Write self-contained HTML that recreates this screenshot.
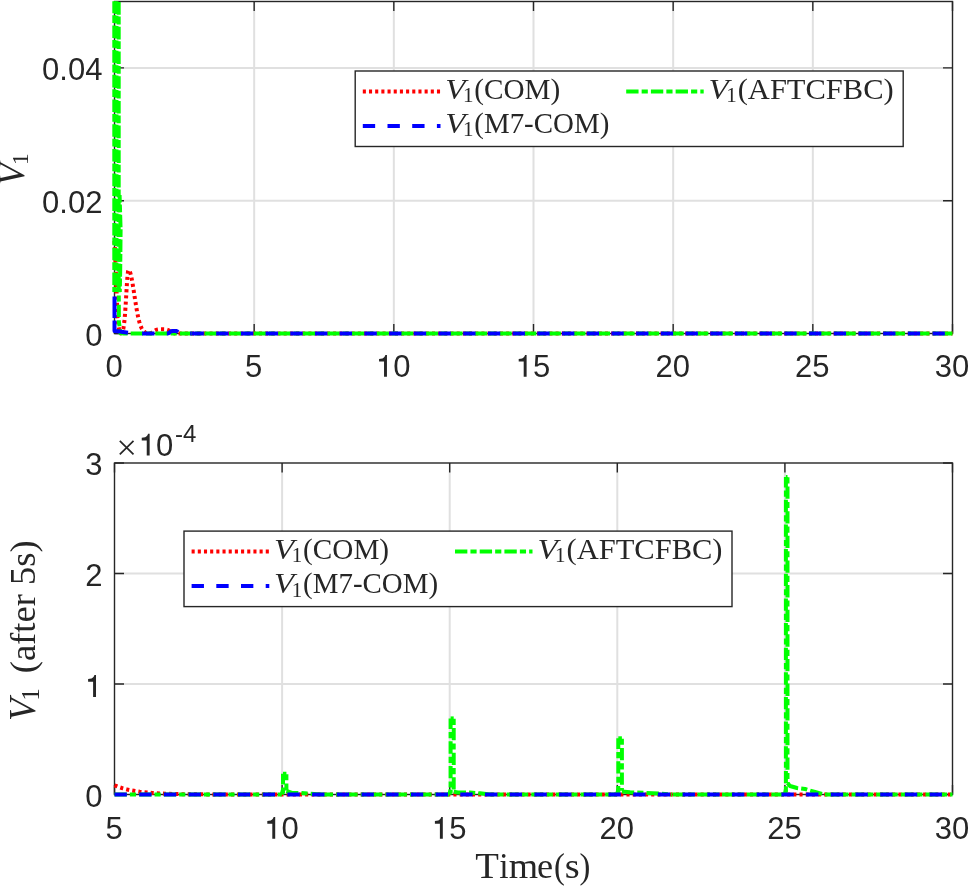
<!DOCTYPE html>
<html><head><meta charset="utf-8"><style>
html,body{margin:0;padding:0;background:#fff;width:968px;height:886px;overflow:hidden}
svg{display:block;will-change:transform}
.tl{font-family:"Liberation Sans", sans-serif;font-size:31px;fill:#262626}
.lg{font-family:"Liberation Serif", serif;font-size:29px;fill:#262626}
.lgv{font-family:"Liberation Serif", serif;font-size:30px;font-style:italic;fill:#262626}
.lgs{font-family:"Liberation Serif", serif;font-size:21px;fill:#262626}
.al{font-family:"Liberation Serif", serif;font-size:35px;fill:#262626}
.alv{font-family:"Liberation Serif", serif;font-size:37px;font-style:italic;fill:#262626}
.als{font-family:"Liberation Serif", serif;font-size:25px;fill:#262626}
</style></head><body>
<svg width="968" height="886" viewBox="0 0 968 886">
<rect width="968" height="886" fill="#fff"/>
<defs><clipPath id="c1"><rect x="111.5" y="1.0" width="844.0" height="335.0"/></clipPath><clipPath id="c2"><rect x="111.5" y="463.0" width="844.0" height="334.5"/></clipPath></defs>
<line x1="254.17" y1="1.5" x2="254.17" y2="333.5" stroke="#e0e0e0" stroke-width="2"/>
<line x1="393.83" y1="1.5" x2="393.83" y2="333.5" stroke="#e0e0e0" stroke-width="2"/>
<line x1="533.50" y1="1.5" x2="533.50" y2="333.5" stroke="#e0e0e0" stroke-width="2"/>
<line x1="673.17" y1="1.5" x2="673.17" y2="333.5" stroke="#e0e0e0" stroke-width="2"/>
<line x1="812.83" y1="1.5" x2="812.83" y2="333.5" stroke="#e0e0e0" stroke-width="2"/>
<line x1="114.5" y1="200.70" x2="952.5" y2="200.70" stroke="#e0e0e0" stroke-width="2"/>
<line x1="114.5" y1="67.90" x2="952.5" y2="67.90" stroke="#e0e0e0" stroke-width="2"/>
<path d="M114.50 333.5V324.0M114.50 1.5V11.0M254.17 333.5V324.0M254.17 1.5V11.0M393.83 333.5V324.0M393.83 1.5V11.0M533.50 333.5V324.0M533.50 1.5V11.0M673.17 333.5V324.0M673.17 1.5V11.0M812.83 333.5V324.0M812.83 1.5V11.0M952.50 333.5V324.0M952.50 1.5V11.0M114.5 333.50H124.0M952.5 333.50H943.0M114.5 200.70H124.0M952.5 200.70H943.0M114.5 67.90H124.0M952.5 67.90H943.0" stroke="#262626" stroke-width="1.4" fill="none"/>
<rect x="114.5" y="1.5" width="838.0" height="332.0" stroke="#262626" stroke-width="1.4" fill="none"/>
<path d="M114.50 241.00 L115.50 262.00 L117.50 318.00 L119.50 333.00 L119.60 333.47 L120.07 333.44 L120.54 333.37 L121.01 333.23 L121.48 332.98 L121.95 332.53 L122.42 331.78 L122.89 330.55 L123.36 328.67 L123.83 325.92 L124.31 322.11 L124.78 317.11 L125.25 310.92 L125.72 303.70 L126.19 295.84 L126.66 287.92 L127.13 280.66 L127.60 274.84 L128.07 271.14 L128.54 270.00 L129.01 270.24 L129.48 270.88 L129.95 271.91 L130.42 273.31 L130.89 275.06 L131.36 277.12 L131.83 279.46 L132.30 282.03 L132.77 284.79 L133.24 287.70 L133.72 290.71 L134.19 293.78 L134.66 296.87 L135.13 299.93 L135.60 302.93 L136.07 305.85 L136.54 308.64 L137.01 311.30 L137.48 313.80 L137.95 316.13 L138.42 318.28 L138.89 320.25 L139.36 322.04 L139.83 323.65 L140.30 325.09 L140.77 326.37 L141.24 327.49 L141.71 328.46 L142.18 329.31 L142.65 330.04 L143.13 330.65 L143.60 331.18 L144.07 331.62 L144.54 331.98 L145.01 332.28 L145.48 332.53 L145.95 332.74 L146.42 332.90 L146.89 333.03 L147.36 333.13 L147.83 333.21 L148.30 333.27 L148.77 333.30 L149.24 333.30 L149.71 333.28 L150.18 333.22 L150.65 333.11 L151.12 332.96 L151.59 332.77 L152.06 332.53 L152.54 332.25 L153.01 331.94 L153.48 331.61 L153.95 331.28 L154.42 330.96 L154.89 330.65 L155.36 330.38 L155.83 330.13 L156.30 329.92 L156.77 329.75 L157.24 329.62 L157.71 329.51 L158.18 329.43 L158.65 329.38 L159.12 329.34 L159.59 329.32 L160.06 329.31 L160.53 329.30 L161.00 329.30 L161.47 329.30 L161.95 329.30 L162.42 329.30 L162.89 329.30 L163.36 329.30 L163.83 329.31 L164.30 329.32 L164.77 329.34 L165.24 329.37 L165.71 329.42 L166.18 329.49 L166.65 329.59 L167.12 329.72 L167.59 329.88 L168.06 330.08 L168.53 330.32 L169.00 330.59 L169.47 330.89 L169.94 331.21 L170.41 331.54 L170.88 331.88 L171.36 332.19 L171.83 332.49 L172.30 332.74 L172.77 332.96 L173.24 333.13 L173.71 333.26 L174.18 333.35 L174.65 333.42 L175.12 333.45 L175.59 333.48 L176.06 333.49 L176.53 333.50 L177.00 333.50 L177.47 333.50 L177.94 333.50 L178.41 333.50 L178.88 333.50 L179.35 333.50 L179.82 333.50 L180.29 333.50 L180.77 333.50 L181.24 333.50 L181.71 333.50 L182.18 333.50 L182.65 333.50 L183.12 333.50 L183.59 333.50 L184.06 333.50 L184.53 333.50 L185.00 333.50 L952.50 333.50" stroke="#ff0000" stroke-width="4.0" fill="none" stroke-dasharray="3.09 3.09" stroke-linejoin="round" clip-path="url(#c1)"/>
<path d="M114.30 1.30 L114.30 292.00" stroke="#00ff00" stroke-width="4.0" fill="none" stroke-dasharray="12.6 1.9 7.8 2.4" stroke-linejoin="round" clip-path="url(#c1)" stroke-dashoffset="0.60"/>
<path d="M116.50 1.30 L116.50 292.00" stroke="#00ff00" stroke-width="4.0" fill="none" stroke-dasharray="12.6 1.9 7.8 2.4" stroke-linejoin="round" clip-path="url(#c1)" stroke-dashoffset="0.00"/>
<path d="M118.70 1.30 L118.70 292.00" stroke="#00ff00" stroke-width="4.0" fill="none" stroke-dasharray="12.6 1.9 7.8 2.4" stroke-linejoin="round" clip-path="url(#c1)" stroke-dashoffset="-0.80"/>
<path d="M119.60 195.00 L120.60 230.00 L120.20 270.00 L119.80 292.00" stroke="#00ff00" stroke-width="4.0" fill="none" stroke-dasharray="12.6 1.9 7.8 2.4" stroke-linejoin="round" clip-path="url(#c1)" stroke-dashoffset="5"/>
<path d="M118.70 280.00 L118.90 322.00 L120.50 333.20 L123.00 333.50" stroke="#00ff00" stroke-width="4.0" fill="none" stroke-dasharray="12.35 3.09 6.18 3.09" stroke-linejoin="round" clip-path="url(#c1)"/>
<path d="M123.00 333.50 L952.50 333.50" stroke="#00ff00" stroke-width="4.0" fill="none" stroke-dasharray="12.29 3.07 6.15 3.07" stroke-linejoin="round" clip-path="url(#c1)" stroke-dashoffset="16.88"/>
<path d="M114.50 296.50 L114.50 318.00" stroke="#0000ff" stroke-width="4.0" fill="none" stroke-dasharray="none" stroke-linejoin="round" clip-path="url(#c1)"/>
<path d="M114.50 320.50 L114.50 331.00 L118.00 331.30 L123.00 332.00 L128.00 332.80" stroke="#0000ff" stroke-width="4.0" fill="none" stroke-dasharray="none" stroke-linejoin="round" clip-path="url(#c1)"/>
<path d="M142.10 333.50 L143.11 333.50 L144.12 333.50 L145.12 333.50 L146.13 333.50 L147.14 333.50 L148.15 333.50 L149.16 333.50 L150.17 333.50 L151.17 333.50 L152.18 333.50 L153.19 333.50 L154.20 333.50 L155.21 333.50 L156.21 333.50 L157.22 333.50 L158.23 333.50 L159.24 333.50 L160.25 333.50 L161.26 333.50 L162.26 333.50 L163.27 333.50 L164.28 333.50 L165.29 333.50 L166.30 333.50 L167.30 333.48 L168.31 333.30 L169.32 332.69 L170.33 331.83 L171.34 331.20 L172.34 330.95 L173.35 330.90 L174.36 330.90 L175.37 330.92 L176.38 331.09 L177.39 331.61 L178.39 332.45 L179.40 333.17 L180.41 333.46 L181.42 333.50 L182.43 333.50 L183.43 333.50 L184.44 333.50 L185.45 333.50 L186.46 333.50 L187.47 333.50 L188.48 333.50 L189.48 333.50 L190.49 333.50 L191.50 333.50" stroke="#0000ff" stroke-width="4.0" fill="none" stroke-dasharray="12.35 12.35" stroke-linejoin="round" clip-path="url(#c1)"/>
<path d="M191.50 333.50 L952.50 333.50" stroke="#0000ff" stroke-width="4.0" fill="none" stroke-dasharray="12.35 12.35" stroke-linejoin="round" clip-path="url(#c1)"/>
<text x="105.38" y="376.70" class="tl" style="font-size:31px">0</text>
<text x="245.05" y="376.70" class="tl" style="font-size:31px">5</text>
<path d="M95 575L95 487L256 487L256 0L350 0L350 703L300 703C285 660 260 620 205 590C170 580 130 576 95 575Z" transform="translate(376.10 376.70) scale(0.0310 -0.0310)" fill="#262626"/><text x="393.33" y="376.70" class="tl" style="font-size:31px">0</text>
<path d="M95 575L95 487L256 487L256 0L350 0L350 703L300 703C285 660 260 620 205 590C170 580 130 576 95 575Z" transform="translate(515.76 376.70) scale(0.0310 -0.0310)" fill="#262626"/><text x="533.00" y="376.70" class="tl" style="font-size:31px">5</text>
<text x="655.43" y="376.70" class="tl" style="font-size:31px">2</text><text x="672.67" y="376.70" class="tl" style="font-size:31px">0</text>
<text x="795.10" y="376.70" class="tl" style="font-size:31px">2</text><text x="812.33" y="376.70" class="tl" style="font-size:31px">5</text>
<text x="934.76" y="376.70" class="tl" style="font-size:31px">3</text><text x="952.00" y="376.70" class="tl" style="font-size:31px">0</text>
<text x="85.16" y="346.00" class="tl" style="font-size:31px">0</text>
<text x="42.07" y="212.90" class="tl" style="font-size:31px">0</text><text x="59.31" y="212.90" class="tl" style="font-size:31px">.</text><text x="67.93" y="212.90" class="tl" style="font-size:31px">0</text><text x="85.16" y="212.90" class="tl" style="font-size:31px">2</text>
<text x="42.07" y="79.90" class="tl" style="font-size:31px">0</text><text x="59.31" y="79.90" class="tl" style="font-size:31px">.</text><text x="67.93" y="79.90" class="tl" style="font-size:31px">0</text><text x="85.16" y="79.90" class="tl" style="font-size:31px">4</text>
<line x1="282.10" y1="463.0" x2="282.10" y2="794.5" stroke="#e0e0e0" stroke-width="2"/>
<line x1="449.70" y1="463.0" x2="449.70" y2="794.5" stroke="#e0e0e0" stroke-width="2"/>
<line x1="617.30" y1="463.0" x2="617.30" y2="794.5" stroke="#e0e0e0" stroke-width="2"/>
<line x1="784.90" y1="463.0" x2="784.90" y2="794.5" stroke="#e0e0e0" stroke-width="2"/>
<line x1="114.5" y1="684.00" x2="952.5" y2="684.00" stroke="#e0e0e0" stroke-width="2"/>
<line x1="114.5" y1="573.50" x2="952.5" y2="573.50" stroke="#e0e0e0" stroke-width="2"/>
<path d="M114.50 794.5V785.0M114.50 463.0V472.5M282.10 794.5V785.0M282.10 463.0V472.5M449.70 794.5V785.0M449.70 463.0V472.5M617.30 794.5V785.0M617.30 463.0V472.5M784.90 794.5V785.0M784.90 463.0V472.5M952.50 794.5V785.0M952.50 463.0V472.5M114.5 794.50H124.0M952.5 794.50H943.0M114.5 684.00H124.0M952.5 684.00H943.0M114.5 573.50H124.0M952.5 573.50H943.0M114.5 463.00H124.0M952.5 463.00H943.0" stroke="#262626" stroke-width="1.4" fill="none"/>
<rect x="114.5" y="463.0" width="838.0" height="331.5" stroke="#262626" stroke-width="1.4" fill="none"/>
<path d="M114.50 785.33 L118.71 787.00 L122.92 788.36 L127.13 789.48 L131.34 790.40 L135.56 791.14 L139.77 791.75 L143.98 792.25 L148.19 792.66 L152.40 793.00 L156.61 793.27 L160.82 793.49 L165.03 793.68 L169.24 793.83 L173.45 793.95 L177.67 794.05 L181.88 794.13 L186.09 794.20 L190.30 794.25 L194.51 794.30 L198.72 794.34 L202.93 794.37 L207.14 794.39 L211.35 794.41 L215.57 794.43 L219.78 794.44 L223.99 794.45 L228.20 794.46 L232.41 794.47 L236.62 794.47 L240.83 794.48 L245.04 794.48 L249.25 794.49 L253.46 794.49 L257.68 794.49 L261.89 794.49 L266.10 794.49 L270.31 794.49 L274.52 794.50 L278.73 794.50 L282.94 794.50 L287.15 794.50 L291.36 794.50 L295.58 794.50 L299.79 794.50 L304.00 794.50 L308.21 794.50 L312.42 794.50 L316.63 794.50 L320.84 794.50 L325.05 794.50 L329.26 794.50 L333.47 794.50 L337.69 794.50 L341.90 794.50 L346.11 794.50 L350.32 794.50 L354.53 794.50 L358.74 794.50 L362.95 794.50 L367.16 794.50 L371.37 794.50 L375.59 794.50 L379.80 794.50 L384.01 794.50 L388.22 794.50 L392.43 794.50 L396.64 794.50 L400.85 794.50 L405.06 794.50 L409.27 794.50 L413.48 794.50 L417.70 794.50 L421.91 794.50 L426.12 794.50 L430.33 794.50 L434.54 794.50 L438.75 794.50 L442.96 794.50 L447.17 794.50 L451.38 794.50 L455.60 794.50 L459.81 794.50 L464.02 794.50 L468.23 794.50 L472.44 794.50 L476.65 794.50 L480.86 794.50 L485.07 794.50 L489.28 794.50 L493.49 794.50 L497.71 794.50 L501.92 794.50 L506.13 794.50 L510.34 794.50 L514.55 794.50 L518.76 794.50 L522.97 794.50 L527.18 794.50 L531.39 794.50 L535.61 794.50 L539.82 794.50 L544.03 794.50 L548.24 794.50 L552.45 794.50 L556.66 794.50 L560.87 794.50 L565.08 794.50 L569.29 794.50 L573.51 794.50 L577.72 794.50 L581.93 794.50 L586.14 794.50 L590.35 794.50 L594.56 794.50 L598.77 794.50 L602.98 794.50 L607.19 794.50 L611.40 794.50 L615.62 794.50 L619.83 794.50 L624.04 794.50 L628.25 794.50 L632.46 794.50 L636.67 794.50 L640.88 794.50 L645.09 794.50 L649.30 794.50 L653.52 794.50 L657.73 794.50 L661.94 794.50 L666.15 794.50 L670.36 794.50 L674.57 794.50 L678.78 794.50 L682.99 794.50 L687.20 794.50 L691.41 794.50 L695.63 794.50 L699.84 794.50 L704.05 794.50 L708.26 794.50 L712.47 794.50 L716.68 794.50 L720.89 794.50 L725.10 794.50 L729.31 794.50 L733.53 794.50 L737.74 794.50 L741.95 794.50 L746.16 794.50 L750.37 794.50 L754.58 794.50 L758.79 794.50 L763.00 794.50 L767.21 794.50 L771.42 794.50 L775.64 794.50 L779.85 794.50 L784.06 794.50 L788.27 794.50 L792.48 794.50 L796.69 794.50 L800.90 794.50 L805.11 794.50 L809.32 794.50 L813.54 794.50 L817.75 794.50 L821.96 794.50 L826.17 794.50 L830.38 794.50 L834.59 794.50 L838.80 794.50 L843.01 794.50 L847.22 794.50 L851.43 794.50 L855.65 794.50 L859.86 794.50 L864.07 794.50 L868.28 794.50 L872.49 794.50 L876.70 794.50 L880.91 794.50 L885.12 794.50 L889.33 794.50 L893.55 794.50 L897.76 794.50 L901.97 794.50 L906.18 794.50 L910.39 794.50 L914.60 794.50 L918.81 794.50 L923.02 794.50 L927.23 794.50 L931.44 794.50 L935.66 794.50 L939.87 794.50 L944.08 794.50 L948.29 794.50 L952.50 794.50" stroke="#ff0000" stroke-width="4.0" fill="none" stroke-dasharray="3.09 3.09" stroke-linejoin="round" clip-path="url(#c2)"/>
<path d="M114.50 794.50 L281.80 794.50" stroke="#00ff00" stroke-width="4.0" fill="none" stroke-dasharray="12.32 3.08 6.16 3.08" stroke-linejoin="round" clip-path="url(#c2)" stroke-dashoffset="0.00"/>
<path d="M320.70 794.50 L449.40 794.50" stroke="#00ff00" stroke-width="4.0" fill="none" stroke-dasharray="12.32 3.08 6.16 3.08" stroke-linejoin="round" clip-path="url(#c2)" stroke-dashoffset="0.00"/>
<path d="M490.00 794.50 L617.10 794.50" stroke="#00ff00" stroke-width="4.0" fill="none" stroke-dasharray="12.32 3.08 6.16 3.08" stroke-linejoin="round" clip-path="url(#c2)" stroke-dashoffset="8.00"/>
<path d="M672.00 794.50 L784.40 794.50" stroke="#00ff00" stroke-width="4.0" fill="none" stroke-dasharray="12.32 3.08 6.16 3.08" stroke-linejoin="round" clip-path="url(#c2)" stroke-dashoffset="23.84"/>
<path d="M826.90 794.50 L952.50 794.50" stroke="#00ff00" stroke-width="4.0" fill="none" stroke-dasharray="12.32 3.08 6.16 3.08" stroke-linejoin="round" clip-path="url(#c2)" stroke-dashoffset="0.00"/>
<path d="M281.80 794.50 L283.00 789.50" stroke="#00ff00" stroke-width="4.0" fill="none" stroke-dasharray="none" stroke-linejoin="round" clip-path="url(#c2)"/>
<path d="M283.00 773.80 L283.00 793.50" stroke="#00ff00" stroke-width="4.0" fill="none" stroke-dasharray="12.32 3.08 6.16 3.08" stroke-linejoin="round" clip-path="url(#c2)" stroke-dashoffset="1.7"/>
<path d="M286.40 773.80 L286.40 790.50" stroke="#00ff00" stroke-width="4.0" fill="none" stroke-dasharray="12.32 3.08 6.16 3.08" stroke-linejoin="round" clip-path="url(#c2)" stroke-dashoffset="15.04"/>
<path d="M283.00 773.80 L286.40 773.80" stroke="#00ff00" stroke-width="4.0" fill="none" stroke-dasharray="none" stroke-linejoin="round" clip-path="url(#c2)"/>
<path d="M286.40 791.00 L292.00 793.00 L300.00 793.00 L310.00 793.60 L320.70 794.50" stroke="#00ff00" stroke-width="4.0" fill="none" stroke-dasharray="12.32 3.08 6.16 3.08" stroke-linejoin="round" clip-path="url(#c2)"/>
<path d="M449.40 794.50 L450.60 789.50" stroke="#00ff00" stroke-width="4.0" fill="none" stroke-dasharray="none" stroke-linejoin="round" clip-path="url(#c2)"/>
<path d="M450.60 718.40 L450.60 793.50" stroke="#00ff00" stroke-width="4.0" fill="none" stroke-dasharray="12.32 3.08 6.16 3.08" stroke-linejoin="round" clip-path="url(#c2)" stroke-dashoffset="1.7"/>
<path d="M453.70 718.40 L453.70 790.20" stroke="#00ff00" stroke-width="4.0" fill="none" stroke-dasharray="12.32 3.08 6.16 3.08" stroke-linejoin="round" clip-path="url(#c2)" stroke-dashoffset="15.04"/>
<path d="M450.60 718.40 L453.70 718.40" stroke="#00ff00" stroke-width="4.0" fill="none" stroke-dasharray="none" stroke-linejoin="round" clip-path="url(#c2)"/>
<path d="M453.70 791.80 L458.00 792.40 L470.00 792.60 L480.00 793.30 L490.00 794.50" stroke="#00ff00" stroke-width="4.0" fill="none" stroke-dasharray="12.32 3.08 6.16 3.08" stroke-linejoin="round" clip-path="url(#c2)"/>
<path d="M617.10 794.50 L618.30 789.50" stroke="#00ff00" stroke-width="4.0" fill="none" stroke-dasharray="none" stroke-linejoin="round" clip-path="url(#c2)"/>
<path d="M618.30 738.30 L618.30 793.50" stroke="#00ff00" stroke-width="4.0" fill="none" stroke-dasharray="12.32 3.08 6.16 3.08" stroke-linejoin="round" clip-path="url(#c2)" stroke-dashoffset="1.7"/>
<path d="M621.90 738.30 L621.90 790.80" stroke="#00ff00" stroke-width="4.0" fill="none" stroke-dasharray="12.32 3.08 6.16 3.08" stroke-linejoin="round" clip-path="url(#c2)" stroke-dashoffset="15.04"/>
<path d="M618.30 738.30 L621.90 738.30" stroke="#00ff00" stroke-width="4.0" fill="none" stroke-dasharray="none" stroke-linejoin="round" clip-path="url(#c2)"/>
<path d="M621.90 791.50 L630.00 792.30 L645.00 792.90 L660.00 793.60 L672.00 794.50" stroke="#00ff00" stroke-width="4.0" fill="none" stroke-dasharray="12.32 3.08 6.16 3.08" stroke-linejoin="round" clip-path="url(#c2)"/>
<path d="M784.70 794.50 L785.90 789.50" stroke="#00ff00" stroke-width="4.0" fill="none" stroke-dasharray="none" stroke-linejoin="round" clip-path="url(#c2)"/>
<path d="M785.90 476.90 L785.90 793.50" stroke="#00ff00" stroke-width="4.0" fill="none" stroke-dasharray="12.32 3.08 6.16 3.08" stroke-linejoin="round" clip-path="url(#c2)" stroke-dashoffset="1.7"/>
<path d="M787.50 476.90 L787.50 783.00" stroke="#00ff00" stroke-width="4.0" fill="none" stroke-dasharray="12.32 3.08 6.16 3.08" stroke-linejoin="round" clip-path="url(#c2)" stroke-dashoffset="15.04"/>
<path d="M785.90 476.90 L787.50 476.90" stroke="#00ff00" stroke-width="4.0" fill="none" stroke-dasharray="none" stroke-linejoin="round" clip-path="url(#c2)"/>
<path d="M787.50 783.00 L790.00 786.00 L797.00 788.00 L805.00 789.00 L815.00 792.00 L824.00 794.50 L826.90 794.50" stroke="#00ff00" stroke-width="4.0" fill="none" stroke-dasharray="12.32 3.08 6.16 3.08" stroke-linejoin="round" clip-path="url(#c2)"/>
<path d="M114.50 794.50 L952.50 794.50" stroke="#0000ff" stroke-width="4.0" fill="none" stroke-dasharray="12.35 12.35" stroke-linejoin="round" clip-path="url(#c2)"/>
<text x="105.38" y="838.80" class="tl" style="font-size:31px">5</text>
<path d="M95 575L95 487L256 487L256 0L350 0L350 703L300 703C285 660 260 620 205 590C170 580 130 576 95 575Z" transform="translate(264.36 838.80) scale(0.0310 -0.0310)" fill="#262626"/><text x="281.60" y="838.80" class="tl" style="font-size:31px">0</text>
<path d="M95 575L95 487L256 487L256 0L350 0L350 703L300 703C285 660 260 620 205 590C170 580 130 576 95 575Z" transform="translate(431.96 838.80) scale(0.0310 -0.0310)" fill="#262626"/><text x="449.20" y="838.80" class="tl" style="font-size:31px">5</text>
<text x="599.56" y="838.80" class="tl" style="font-size:31px">2</text><text x="616.80" y="838.80" class="tl" style="font-size:31px">0</text>
<text x="767.16" y="838.80" class="tl" style="font-size:31px">2</text><text x="784.40" y="838.80" class="tl" style="font-size:31px">5</text>
<text x="934.76" y="838.80" class="tl" style="font-size:31px">3</text><text x="952.00" y="838.80" class="tl" style="font-size:31px">0</text>
<text x="85.16" y="806.80" class="tl" style="font-size:31px">0</text>
<path d="M95 575L95 487L256 487L256 0L350 0L350 703L300 703C285 660 260 620 205 590C170 580 130 576 95 575Z" transform="translate(85.16 696.90) scale(0.0310 -0.0310)" fill="#262626"/>
<text x="85.16" y="585.80" class="tl" style="font-size:31px">2</text>
<text x="85.16" y="475.30" class="tl" style="font-size:31px">3</text>
<path d="M119.8 440.8L133.5 454.4M133.5 440.8L119.8 454.4" stroke="#262626" stroke-width="1.7"/>
<path d="M95 575L95 487L256 487L256 0L350 0L350 703L300 703C285 660 260 620 205 590C170 580 130 576 95 575Z" transform="translate(138.80 455.60) scale(0.0310 -0.0310)" fill="#262626"/><text x="156.04" y="455.60" class="tl" style="font-size:31px">0</text>
<text x="174.90" y="442.00" class="tl" style="font-size:24px">-</text><text x="182.89" y="442.00" class="tl" style="font-size:24px">4</text>
<rect x="355.2" y="71" width="548" height="75.5" fill="#fff" stroke="#262626" stroke-width="1.4"/>
<line x1="362.8" y1="91.5" x2="440.5" y2="91.5" stroke="#ff0000" stroke-width="4.0" stroke-dasharray="3.09 3.09"/>
<line x1="362.8" y1="125.9" x2="440.5" y2="125.9" stroke="#0000ff" stroke-width="4.0" stroke-dasharray="12.35 12.35"/>
<line x1="626.2" y1="91.5" x2="703.7" y2="91.5" stroke="#00ff00" stroke-width="4.0" stroke-dasharray="12.35 3.09 6.18 3.09"/>
<text x="445.20" y="98.90" class="lgv" textLength="20.2" lengthAdjust="spacingAndGlyphs">V</text>
<text x="462.90" y="102.20" class="lgs">1</text>
<text x="474.30" y="98.90" class="lg" textLength="86" lengthAdjust="spacingAndGlyphs">(COM)</text>
<text x="445.20" y="133.10" class="lgv" textLength="20.2" lengthAdjust="spacingAndGlyphs">V</text>
<text x="462.90" y="136.40" class="lgs">1</text>
<text x="474.30" y="133.10" class="lg" textLength="135" lengthAdjust="spacingAndGlyphs">(M7-COM)</text>
<text x="708.60" y="98.90" class="lgv" textLength="20.2" lengthAdjust="spacingAndGlyphs">V</text>
<text x="726.30" y="102.20" class="lgs">1</text>
<text x="737.70" y="98.90" class="lg" textLength="156" lengthAdjust="spacingAndGlyphs">(AFTCFBC)</text>
<rect x="184" y="531.1" width="548" height="75.5" fill="#fff" stroke="#262626" stroke-width="1.4"/>
<line x1="191.6" y1="551.6" x2="269.3" y2="551.6" stroke="#ff0000" stroke-width="4.0" stroke-dasharray="3.09 3.09"/>
<line x1="191.6" y1="586.0" x2="269.3" y2="586.0" stroke="#0000ff" stroke-width="4.0" stroke-dasharray="12.35 12.35"/>
<line x1="455" y1="551.6" x2="532.5" y2="551.6" stroke="#00ff00" stroke-width="4.0" stroke-dasharray="12.35 3.09 6.18 3.09"/>
<text x="274.00" y="559.00" class="lgv" textLength="20.2" lengthAdjust="spacingAndGlyphs">V</text>
<text x="291.70" y="562.30" class="lgs">1</text>
<text x="303.10" y="559.00" class="lg" textLength="86" lengthAdjust="spacingAndGlyphs">(COM)</text>
<text x="274.00" y="593.20" class="lgv" textLength="20.2" lengthAdjust="spacingAndGlyphs">V</text>
<text x="291.70" y="596.50" class="lgs">1</text>
<text x="303.10" y="593.20" class="lg" textLength="135" lengthAdjust="spacingAndGlyphs">(M7-COM)</text>
<text x="537.40" y="559.00" class="lgv" textLength="20.2" lengthAdjust="spacingAndGlyphs">V</text>
<text x="555.10" y="562.30" class="lgs">1</text>
<text x="566.50" y="559.00" class="lg" textLength="156" lengthAdjust="spacingAndGlyphs">(AFTCFBC)</text>
<text x="475.23" y="877.6" class="al" textLength="23.63" lengthAdjust="spacingAndGlyphs">T</text>
<text x="499.35" y="877.6" class="al" textLength="9.34" lengthAdjust="spacingAndGlyphs">i</text>
<text x="508.71" y="877.6" class="al" textLength="29.41" lengthAdjust="spacingAndGlyphs">m</text>
<text x="536.95" y="877.6" class="al" textLength="16.10" lengthAdjust="spacingAndGlyphs">e</text>
<text x="553.97" y="877.6" class="al" textLength="10.81" lengthAdjust="spacingAndGlyphs">(</text>
<text x="564.70" y="877.6" class="al" textLength="14.91" lengthAdjust="spacingAndGlyphs">s</text>
<text x="579.61" y="877.6" class="al" textLength="10.84" lengthAdjust="spacingAndGlyphs">)</text>
<g transform="translate(34.6,718.3) rotate(-90)"><text x="-2.8" y="0" class="alv">V</text><text x="17.6" y="4.5" class="als">1</text><text x="45" y="0" class="al" textLength="133" lengthAdjust="spacingAndGlyphs">(after 5s)</text></g>
<g transform="translate(23.8,185.8) rotate(-90)"><text x="0" y="0" class="alv">V</text><text x="20.8" y="4.2" class="als" style="font-size:23.5px">1</text></g>
</svg>
</body></html>
